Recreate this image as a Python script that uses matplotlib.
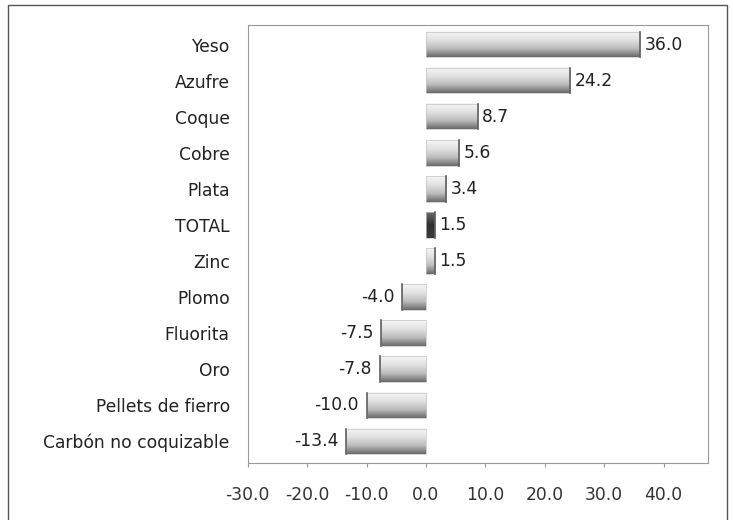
import numpy as np
import matplotlib.pyplot as plt
from matplotlib.patches import Rectangle
from matplotlib.colors import LinearSegmentedColormap

# Datos
productos = ['Yeso', 'Azufre', 'Coque', 'Cobre', 'Plata', 'TOTAL', 'Zinc',
             'Plomo', 'Fluorita', 'Oro', 'Pellets de fierro', 'Carbón no coquizable']
variacion = [36.0, 24.2, 8.7, 5.6, 3.4, 1.5, 1.5, -4.0, -7.5, -7.8, -10.0, -13.4]
ticks_x = [-30, -20, -10, 0, 10, 20, 30, 40]

fs = 12.3

fig = plt.figure(figsize=(7.33, 5.2), dpi=100)
ax = fig.add_axes([0.338, 0.11, 0.628, 0.842])

y = np.arange(len(productos))[::-1]
alto = 0.70

# degradado vertical para simular las barras cilíndricas
grad = np.linspace(0, 1, 64).reshape(-1, 1)
gris = LinearSegmentedColormap.from_list('g', ['#f6f6f6', '#e2e2e2', '#bdbdbd', '#6a6a6a'])
oscuro = LinearSegmentedColormap.from_list('t', ['#6a6a6a', '#303030', '#3c3c3c'])
for yi, v, nombre in zip(y, variacion, productos):
    cmap = oscuro if nombre == 'TOTAL' else gris
    x0, x1 = min(0, v), max(0, v)
    ax.imshow(grad, cmap=cmap, aspect='auto', extent=[x0, x1, yi - alto / 2, yi + alto / 2],
              origin='upper', zorder=2)
    ax.add_patch(Rectangle((x0, yi - alto / 2), x1 - x0, alto, fill=False,
                           edgecolor='#c4c4c4', linewidth=0.5, zorder=3))
    ax.plot([v, v], [yi - alto / 2, yi + alto / 2], color='#606060', lw=1.2, zorder=3)
    if v >= 0:
        ax.text(v + 0.8, yi, f'{v:.1f}', va='center', ha='left', fontsize=fs, color='#222222')
    else:
        ax.text(v - 1.3, yi, f'{v:.1f}', va='center', ha='right', fontsize=fs, color='#222222')

ax.set_xlim(-30, 47.5)
ax.set_ylim(-0.6, len(productos) - 0.45)
ax.set_xticks(ticks_x)
ax.set_xticklabels([f'{t:.1f}' for t in ticks_x], fontsize=fs, color='#333333')
ax.set_yticks(y)
ax.set_yticklabels(productos, fontsize=fs, color='#222222')
ax.tick_params(axis='y', length=0, pad=13)
ax.tick_params(axis='x', length=3, color='#999999', pad=14)
for s in ax.spines.values():
    s.set_color('#999999')
    s.set_linewidth(0.8)

# marco exterior
fig.patches.append(Rectangle((0.011, -0.02), 0.981, 1.01, transform=fig.transFigure,
                             fill=False, edgecolor='#555555', linewidth=1.0))

fig.savefig('out.png', dpi=100)
